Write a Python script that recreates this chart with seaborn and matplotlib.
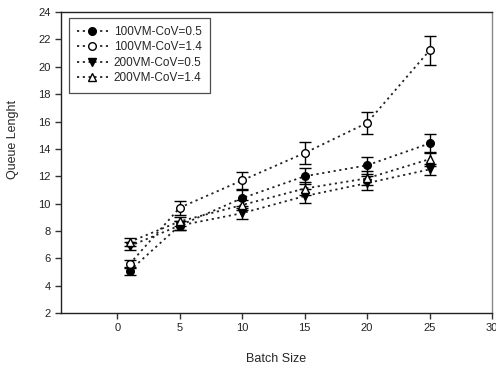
### -------------------- ###
###  Libraries
### -------------------- ###
import pandas as pd
import numpy as np
import matplotlib
matplotlib.use("Agg")
import matplotlib.pyplot as plt
import seaborn as sns

### -------------------- ###
###  Data
### -------------------- ###
batch_size = [1, 5, 10, 15, 20, 25]
series_names = ["100VM-CoV=0.5", "100VM-CoV=1.4", "200VM-CoV=0.5", "200VM-CoV=1.4"]

q_100_05 = [5.1, 8.4, 10.4, 12.0, 12.8, 14.4]
q_100_14 = [5.6, 9.7, 11.7, 13.7, 15.9, 21.2]
q_200_05 = [6.9, 8.4, 9.3, 10.55, 11.5, 12.5]
q_200_14 = [7.2, 8.7, 9.9, 11.1, 11.85, 13.25]

err_100_05 = [0.3, 0.3, 0.6, 0.6, 0.6, 0.7]
err_100_14 = [0.3, 0.5, 0.6, 0.8, 0.8, 1.05]
err_200_05 = [0.3, 0.3, 0.4, 0.5, 0.5, 0.4]
err_200_14 = [0.3, 0.3, 0.4, 0.5, 0.5, 0.5]

values = [q_100_05, q_100_14, q_200_05, q_200_14]
errors = [err_100_05, err_100_14, err_200_05, err_200_14]

df = pd.DataFrame({
    "Batch Size": batch_size * len(series_names),
    "Queue Lenght": sum(values, []),
    "err": sum(errors, []),
    "series": np.repeat(series_names, len(batch_size)),
})

### -------------------- ###
###  Plot
### -------------------- ###
sns.set_style("ticks")
plt.rcParams["font.family"] = ["Liberation Sans", "DejaVu Sans"]

markers = {"100VM-CoV=0.5": "o", "100VM-CoV=1.4": "o",
           "200VM-CoV=0.5": "v", "200VM-CoV=1.4": "^"}
faces = {"100VM-CoV=0.5": "black", "100VM-CoV=1.4": "white",
         "200VM-CoV=0.5": "black", "200VM-CoV=1.4": "white"}

fig = plt.figure(figsize=(4.96, 3.67), dpi=100)
ax = fig.add_axes([0.123, 0.147, 0.869, 0.820])

# error bars first so markers sit on top
for name in series_names:
    sub = df[df["series"] == name]
    ax.errorbar(sub["Batch Size"], sub["Queue Lenght"], yerr=sub["err"],
                fmt="none", ecolor="black", elinewidth=1.0, capsize=4, capthick=1.0, zorder=2)

for name in series_names:
    sub = df[df["series"] == name]
    sns.lineplot(data=sub, x="Batch Size", y="Queue Lenght", ax=ax, label=name,
                 color="#222222", dashes=False, linestyle=(0, (1.2, 2.0)), linewidth=1.3,
                 marker=markers[name], markersize=5.5, markerfacecolor=faces[name],
                 markeredgecolor="black", markeredgewidth=1.0, zorder=3)

ax.set_xlim(-4.5, 30)
ax.set_ylim(2, 24)
ax.set_xticks(range(0, 31, 5))
ax.set_yticks(range(2, 25, 2))
ax.tick_params(axis="both", direction="out", length=4, width=1, labelsize=8, colors="#333333")
ax.tick_params(axis="both", labelcolor="#222222")
for side in ["left", "bottom", "top"]:
    ax.spines[side].set_color("#222222")
ax.spines["right"].set_color("#888888")
for s in ax.spines.values():
    s.set_linewidth(1.0)

ax.set_xlabel("Batch Size", fontsize=9, labelpad=14)
ax.set_ylabel("Queue Lenght", fontsize=9)
ax.yaxis.set_label_coords(-0.098, 0.578)

leg = ax.legend(loc="upper left", bbox_to_anchor=(0.018, 0.982), borderaxespad=0,
                fontsize=8.5, frameon=True, fancybox=False, edgecolor="#222222",
                handlelength=2.6, borderpad=0.7, labelspacing=0.3, handletextpad=0.5)
leg.get_frame().set_linewidth(0.9)

fig.savefig("out.png", dpi=100)
